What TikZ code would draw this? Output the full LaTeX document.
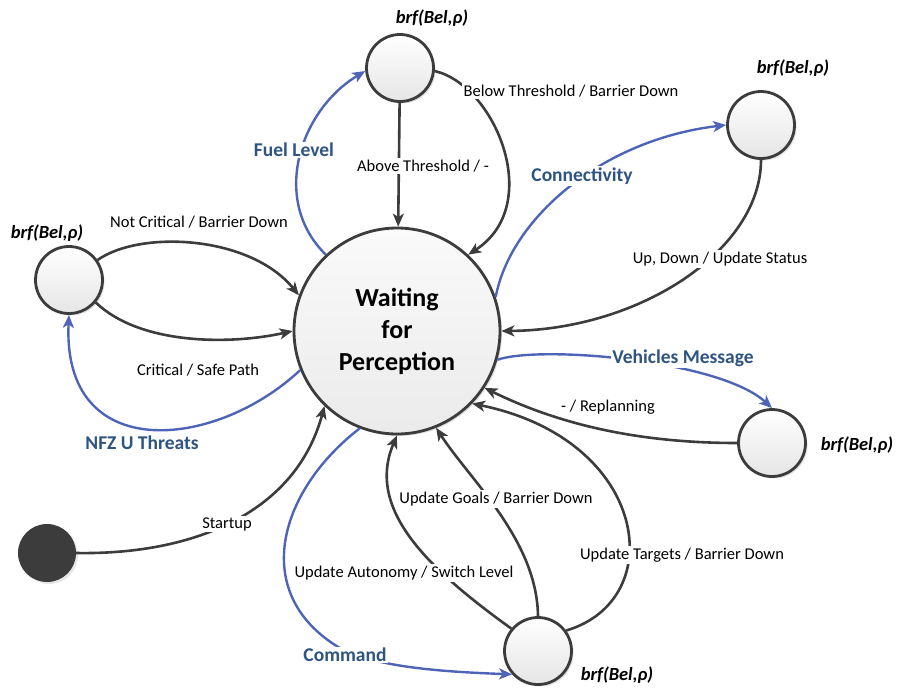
\documentclass[tikz,border=0pt]{standalone}
\usepackage{fontspec}
\setmainfont{Carlito}
\usetikzlibrary{arrows.meta,shadows}
\definecolor{edgegray}{RGB}{60,60,60}
\definecolor{evblue}{RGB}{78,100,182}
\definecolor{evtext}{RGB}{46,84,128}

\begin{document}
\begin{tikzpicture}[x=1pt,y=-1pt,
  state/.style={circle,draw=edgegray,line width=2.8pt,top color=white,bottom color=black!10,
    inner sep=0pt,minimum size=67pt,drop shadow={shadow xshift=2pt,shadow yshift=-2pt,opacity=.25}},
  trans/.style={draw=edgegray,line width=2.6pt,-{Stealth[length=13pt,width=11pt,inset=3.5pt]}},
  event/.style={draw=evblue,line width=2.4pt,-{Stealth[length=13pt,width=11pt,inset=3.5pt]}},
  lbl/.style={font=\fontsize{16.5}{20}\selectfont,fill=white,inner sep=1.5pt},
  evlbl/.style={font=\bfseries\fontsize{19.5}{23}\selectfont,text=evtext,fill=white,inner sep=1.5pt},
  brf/.style={font=\bfseries\itshape\fontsize{18.5}{22}\selectfont}]
\useasboundingbox (0,0) rectangle (897,691);

\node[state,minimum size=206pt,top color=black!2,bottom color=black!8,align=center,
  font=\bfseries\fontsize{26}{32}\selectfont] (wait) at (397,331) {Waiting\\for\\Perception};
\node[state] (fuel) at (400,68) {};
\node[state] (conn) at (761,125) {};
\node[state] (nfz) at (69,280) {};
\node[state] (veh) at (772,443) {};
\node[state] (cmd) at (538,651) {};
\node[circle,fill=edgegray,minimum size=58pt,inner sep=0pt,drop shadow={shadow xshift=2pt,shadow yshift=-2pt,opacity=.2}] (init) at (47,553) {};

\node[brf] (brfFuel) at (432,18) {brf(Bel,ρ)};
\node[brf] (brfConn) at (793,68) {brf(Bel,ρ)};
\node[brf] (brfNfz) at (47,233) {brf(Bel,ρ)};
\node[brf] (brfVeh) at (857,445) {brf(Bel,ρ)};
\node[brf] (brfCmd) at (617,675) {brf(Bel,ρ)};

\draw[trans] (fuel) -- (wait);
\draw[trans] (fuel.-5) .. controls (495,85) and (545,205) .. (wait.47);
\draw[event] (wait.133) .. controls (270,200) and (300,110) .. (fuel.185);
\draw[event] (wait.19) .. controls (510,220) and (600,140) .. (conn.180);
\draw[trans] (conn.-90) .. controls (761,250) and (640,330) .. (wait.0);
\draw[event] (wait.-16) .. controls (540,345) and (720,360) .. (veh.90);
\draw[trans] (veh.180) .. controls (640,443) and (560,425) .. (wait.-33);
\draw[trans] (nfz.35) .. controls (140,230) and (250,235) .. (wait.160);
\draw[trans] (nfz.-40) .. controls (140,345) and (230,345) .. (wait.180);
\draw[event] (wait.202) .. controls (215,450) and (62,465) .. (nfz.-90);
\draw[trans] (init.0) .. controls (190,555) and (295,515) .. (wait.226);
\draw[event] (wait.249) .. controls (280,490) and (250,590) .. (335,645)
  .. controls (370,668) and (450,672) .. (cmd.222);
\draw[trans] (cmd.140) .. controls (430,570) and (365,510) .. (wait.270);
\draw[trans] (cmd.90) .. controls (537,540) and (470,480) .. (wait.292);
\draw[trans] (cmd.36) .. controls (670,600) and (650,440) .. (wait.316);

\node[lbl] (lAbove) at (423,166) {Above Threshold / -};
\node[lbl] (lBelow) at (571,91) {Below Threshold / Barrier Down};
\node[evlbl] (lFuel) at (294,150) {Fuel Level};
\node[evlbl] (lConn) at (582,176) {Connectivity};
\node[lbl] (lUp) at (720,259) {Up, Down / Update Status};
\node[evlbl] (lVeh) at (683,358) {Vehicles Message};
\node[lbl] (lRepl) at (608,407) {- / Replanning};
\node[lbl] (lNotCrit) at (199,222) {Not Critical / Barrier Down};
\node[lbl] (lCrit) at (198,370) {Critical / Safe Path};
\node[evlbl] (lNfz) at (142,443) {NFZ U Threats};
\node[lbl] (lStart) at (227,524) {Startup};
\node[evlbl] (lCmd) at (345,655) {Command};
\node[lbl] (lAuto) at (404,573) {Update Autonomy / Switch Level};
\node[lbl] (lGoals) at (496,499) {Update Goals / Barrier Down};
\node[lbl] (lTarg) at (682,555) {Update Targets / Barrier Down};
\end{tikzpicture}
\end{document}
